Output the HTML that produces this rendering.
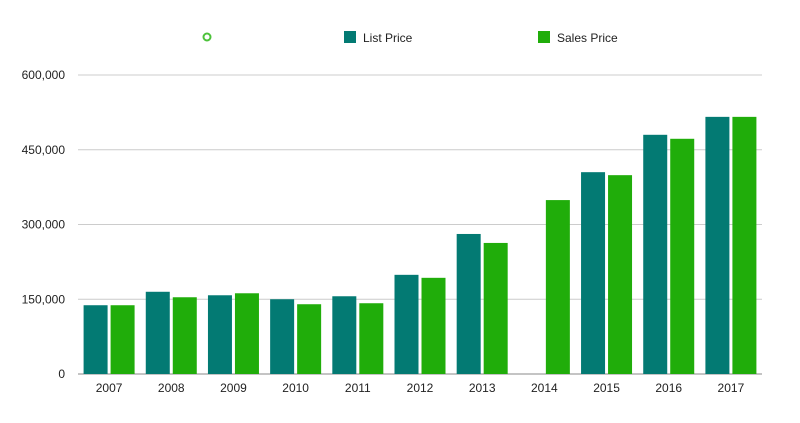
<!DOCTYPE html>
<html><head><meta charset="utf-8"><style>
body{margin:0;background:#fff;font-family:"Liberation Sans",sans-serif;}
svg text{font-family:"Liberation Sans",sans-serif;font-size:12px;fill:#222;}
</style></head><body>
<svg id="chart" width="800" height="418" viewBox="0 0 800 418">
<g>
<circle cx="207" cy="37" r="3.5" fill="none" stroke="#4cc23a" stroke-width="2"/>
<rect x="344" y="31" width="12" height="12" fill="#037a73"/>
<text x="363" y="42">List Price</text>
<rect x="538" y="31" width="12" height="12" fill="#20ad0a"/>
<text x="557" y="42">Sales Price</text>
</g>
<g id="grid"></g><g id="bars"></g><g id="xl"></g>
</svg>
<script>
const categories=["2007","2008","2009","2010","2011","2012","2013","2014","2015","2016","2017"];
const listPrice=[138000,165000,158000,150000,156000,199000,281000,0,405000,480000,516000];
const salesPrice=[138000,154000,162000,140000,142000,193000,263000,349000,399000,472000,516000];
const yTicks=[0,150000,300000,450000,600000];
const yTickLabels=["0","150,000","300,000","450,000","600,000"];
const NS="http://www.w3.org/2000/svg";
const x0=78,x1=762,yTop=75,yBot=374,yMax=600000;
const y=v=>yBot-(v/yMax)*(yBot-yTop);
const step=(x1-x0)/categories.length;
const bw=24;
function mk(t,a,p){const e=document.createElementNS(NS,t);for(const k in a)e.setAttribute(k,a[k]);p.appendChild(e);return e;}
const g=document.getElementById('grid'),b=document.getElementById('bars'),xl=document.getElementById('xl');
yTicks.forEach((t,i)=>{
 const l=mk('line',{x1:x0,x2:x1,y1:y(t),y2:y(t),stroke:i==0?'#888':'#ccc','stroke-width':1},g);
 
 
 const tx=mk('text',{x:65,y:y(t)+4,'text-anchor':'end'},g);tx.textContent=yTickLabels[i];
 
 
});
categories.forEach((c,i)=>{
 const cx=x0+step*(i+0.5);
 if(listPrice[i]>0){const r=mk('rect',{x:cx-bw-1.5,y:y(listPrice[i]),width:bw,height:yBot-y(listPrice[i]),fill:'#037a73'},b);
 
 }
 const s=mk('rect',{x:cx+1.5,y:y(salesPrice[i]),width:bw,height:yBot-y(salesPrice[i]),fill:'#20ad0a'},b);
 
 
 const t=mk('text',{x:cx,y:392,'text-anchor':'middle'},xl);t.textContent=c;
 
 
});
</script>
</body></html>
